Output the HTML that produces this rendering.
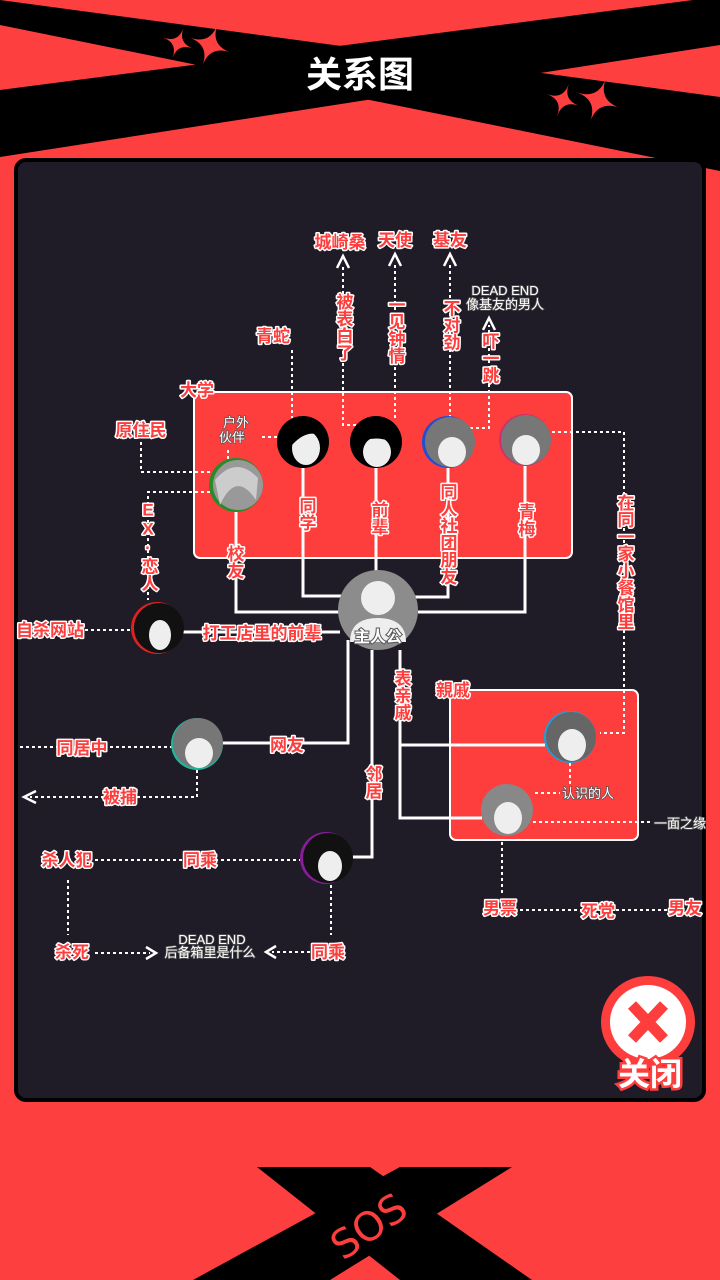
<!DOCTYPE html>
<html><head><meta charset="utf-8"><style>
html,body{margin:0;padding:0;background:#fe3f3f;}
svg{display:block}
.l{font-family:"Liberation Sans","Noto Sans CJK SC",sans-serif;font-weight:bold;fill:#fe3d3d;stroke:#fff;stroke-width:3px;paint-order:stroke;stroke-linejoin:round;font-size:17px}
.v{writing-mode:vertical-rl;text-orientation:upright}
.w{font-family:"Liberation Sans","Noto Sans CJK SC",sans-serif;fill:#fff;font-size:13px;stroke:#555;stroke-width:1.5px;paint-order:stroke}
.d{stroke:#fff;stroke-width:2;stroke-dasharray:3 3;fill:none}
.s{stroke:#fff;stroke-width:3;fill:none}
</style></head><body>
<svg width="720" height="1280" viewBox="0 0 720 1280" xmlns="http://www.w3.org/2000/svg">
<rect width="720" height="1280" fill="#fe3f3f"/>
<!-- top X bands -->
<polygon points="0,0 720,97 720,171 0,25" fill="#000"/>
<polygon points="0,90 693,0 720,0 720,45 0,157" fill="#000"/>
<g fill="#fe3f3f">
<path d="M0,-16 Q0,0 16,0 Q0,0 0,16 Q0,0 -16,0 Q0,0 0,-16Z" transform="translate(178,43) rotate(20)"/>
<path d="M0,-22 Q0,0 22,0 Q0,0 0,22 Q0,0 -22,0 Q0,0 0,-22Z" transform="translate(210,45) rotate(20)"/>
<path d="M0,-17 Q0,0 17,0 Q0,0 0,17 Q0,0 -17,0 Q0,0 0,-17Z" transform="translate(563,100) rotate(20)"/>
<path d="M0,-23 Q0,0 23,0 Q0,0 0,23 Q0,0 -23,0 Q0,0 0,-23Z" transform="translate(598,100) rotate(20)"/>
</g>
<text x="360" y="87" text-anchor="middle" font-family="Liberation Sans,Noto Sans CJK SC,sans-serif" font-weight="bold" font-size="36" fill="#fff">关系图</text>
<!-- panel -->
<rect x="16" y="160" width="688" height="940" rx="10" fill="#1f1b27" stroke="#000" stroke-width="4"/>
<!-- boxes -->
<rect x="194" y="392" width="378" height="166" rx="6" fill="#fe3d3d" stroke="#fff" stroke-width="2"/>
<rect x="450" y="690" width="188" height="150" rx="6" fill="#fe3d3d" stroke="#fff" stroke-width="2"/>
<text class="l" x="180" y="396" font-size="22">大学</text>
<text class="l" x="436" y="696" font-size="22">親戚</text>
<!-- solid lines -->
<path class="s" d="M236,512V612H340 M303,468V596H345 M376,468V572 M448,468V597H415 M525,466V612H418 M183,632H340 M348,640V743H222 M372,650V857H352 M400,650V818H482 M400,745H545"/>
<!-- dotted -->
<path class="d" d="M292,350V418 M362,425H343V265 M395,418V262 M450,418V262 M470,428H489V325 M262,437H278 M228,450V462 M141,442V472H210 M210,492H148V600 M85,630H132 M552,432H624V733H600 M20,747H172 M197,770V797H30 M95,860H300 M68,880V935 M95,953H150 M331,885V935 M310,952H272 M570,763V785 M535,793H560 M533,822H650 M502,842V895 M520,910H680"/>
<g fill="none" stroke="#fff" stroke-width="2.5">
<path d="M337,268L343,256L349,268 M389,266L395,254L401,266 M444,266L450,254L456,266 M483,330L489,318L495,330 M36,791L24,797L36,803 M146,947L156,953L146,959 M276,946L266,952L276,958"/>
</g>
<!-- avatars -->
<g>
<circle cx="236" cy="485" r="27" fill="#2a8a2a"/><circle cx="238" cy="485" r="25" fill="#999"/><path d="M215,480 Q236,455 258,478 L256,500 Q236,470 220,505Z" fill="#ccc"/>
<circle cx="303" cy="442" r="26" fill="#000"/><ellipse cx="306" cy="448" rx="14" ry="17" fill="#eee"/><path d="M279,442 Q300,410 328,440 Q310,425 292,445Z" fill="#000"/>
<circle cx="376" cy="442" r="26" fill="#000"/><ellipse cx="377" cy="452" rx="14" ry="15" fill="#eee"/><path d="M355,445 Q376,415 398,445 Q376,432 355,445Z" fill="#000"/>
<circle cx="448" cy="442" r="26" fill="#224fd0"/><circle cx="450" cy="442" r="25" fill="#777"/><ellipse cx="452" cy="452" rx="14" ry="15" fill="#eee"/>
<circle cx="525" cy="440" r="26" fill="#d0306a"/><circle cx="526" cy="440" r="25" fill="#777"/><ellipse cx="526" cy="450" rx="14" ry="15" fill="#eee"/>
<circle cx="378" cy="610" r="40" fill="#8c8c8c"/><circle cx="378" cy="598" r="17" fill="#eee"/><path d="M350,642 Q350,618 378,618 Q406,618 406,642Z" fill="#eee"/>
<text x="378" y="642" text-anchor="middle" font-family="Liberation Sans,Noto Sans CJK SC,sans-serif" font-weight="bold" font-size="16" fill="#fff" stroke="#555" stroke-width="2" paint-order="stroke">主人公</text>
<circle cx="157" cy="628" r="26" fill="#d22"/><circle cx="159" cy="628" r="25" fill="#111"/><ellipse cx="160" cy="635" rx="11" ry="15" fill="#eee"/>
<circle cx="197" cy="744" r="26" fill="#1fb59a"/><circle cx="198" cy="743" r="25" fill="#777"/><ellipse cx="199" cy="753" rx="14" ry="15" fill="#eee"/>
<circle cx="326" cy="858" r="26" fill="#8a1c9a"/><circle cx="328" cy="858" r="25" fill="#111"/><ellipse cx="330" cy="866" rx="12" ry="15" fill="#eee"/>
<circle cx="570" cy="737" r="26" fill="#1aa0e0"/><circle cx="571" cy="737" r="25" fill="#666"/><ellipse cx="572" cy="745" rx="14" ry="16" fill="#eee"/>
<circle cx="507" cy="810" r="26" fill="#888"/><ellipse cx="508" cy="818" rx="14" ry="16" fill="#eee"/>
</g>
<!-- labels -->
<text class="l" x="340" y="248" text-anchor="middle">城崎桑</text>
<text class="l" x="395" y="246" text-anchor="middle">天使</text>
<text class="l" x="450" y="246" text-anchor="middle">基友</text>
<text class="w" x="505" y="295" text-anchor="middle">DEAD END</text>
<text class="w" x="505" y="309" text-anchor="middle">像基友的男人</text>
<text class="l" x="273" y="342" text-anchor="middle" font-size="15">青蛇</text>
<text class="l v" x="343" y="327" text-anchor="middle">被表白了</text>
<text class="l v" x="395" y="330" text-anchor="middle">一见钟情</text>
<text class="l v" x="450" y="325" text-anchor="middle">不对劲</text>
<text class="l v" x="489" y="358" text-anchor="middle" font-size="14">吓一跳</text>
<text class="w" x="236" y="427" text-anchor="middle" stroke-width="0">户外</text>
<text class="w" x="232" y="442" text-anchor="middle" stroke-width="0">伙伴</text>
<text class="l" x="141" y="436" text-anchor="middle">原住民</text>
<text class="l v" x="148" y="546" text-anchor="middle" font-size="15">EX·恋人</text>
<text class="l" x="50" y="636" text-anchor="middle">自杀网站</text>
<text class="l" x="262" y="639" text-anchor="middle">打工店里的前辈</text>
<text class="l v" x="234" y="562" text-anchor="middle">校友</text>
<text class="l v" x="306" y="514" text-anchor="middle">同学</text>
<text class="l v" x="378" y="518" text-anchor="middle">前辈</text>
<text class="l v" x="447" y="534" text-anchor="middle">同人社团朋友</text>
<text class="l v" x="525" y="520" text-anchor="middle">青梅</text>
<text class="l v" x="624" y="562" text-anchor="middle" font-size="15">在同一家小餐馆里</text>
<text class="l v" x="401" y="695" text-anchor="middle">表亲戚</text>
<text class="l" x="287" y="751" text-anchor="middle">网友</text>
<text class="l" x="82" y="754" text-anchor="middle">同居中</text>
<text class="l" x="120" y="803" text-anchor="middle">被捕</text>
<text class="l v" x="372" y="782" text-anchor="middle">邻居</text>
<text class="w" x="588" y="798" text-anchor="middle" stroke-width="0">认识的人</text>
<text class="w" x="680" y="828" text-anchor="middle" stroke-width="0">一面之缘</text>
<text class="l" x="67" y="866" text-anchor="middle">杀人犯</text>
<text class="l" x="200" y="866" text-anchor="middle">同乘</text>
<text class="l" x="72" y="958" text-anchor="middle">杀死</text>
<text class="w" x="212" y="944" text-anchor="middle" font-size="12">DEAD END</text>
<text class="w" x="210" y="957" text-anchor="middle">后备箱里是什么</text>
<text class="l" x="328" y="958" text-anchor="middle">同乘</text>
<text class="l" x="500" y="914" text-anchor="middle">男票</text>
<text class="l" x="598" y="917" text-anchor="middle" font-size="14">死党</text>
<text class="l" x="685" y="914" text-anchor="middle">男友</text>
<!-- close -->
<ellipse cx="648" cy="1022" rx="47" ry="46" fill="#fe3d3d"/>
<ellipse cx="648" cy="1022" rx="38" ry="37" fill="#fff"/>
<path d="M632,1005L664,1039M664,1005L632,1039" stroke="#fe3d3d" stroke-width="11"/>
<text x="650" y="1085" text-anchor="middle" font-family="Liberation Sans,Noto Sans CJK SC,sans-serif" font-weight="bold" font-size="32" fill="#fff" stroke="#fe3d3d" stroke-width="5" paint-order="stroke">关闭</text>
<!-- bottom X -->
<polygon points="257,1167 370,1167 532,1280 400,1280" fill="#000"/>
<polygon points="400,1167 512,1167 330,1280 193,1280" fill="#000"/>
<text x="370" y="1240" text-anchor="middle" font-family="DejaVu Sans,sans-serif" font-size="40" fill="#fe3d3d" transform="rotate(-35 370 1228)">SOS</text>
</svg>
</body></html>
